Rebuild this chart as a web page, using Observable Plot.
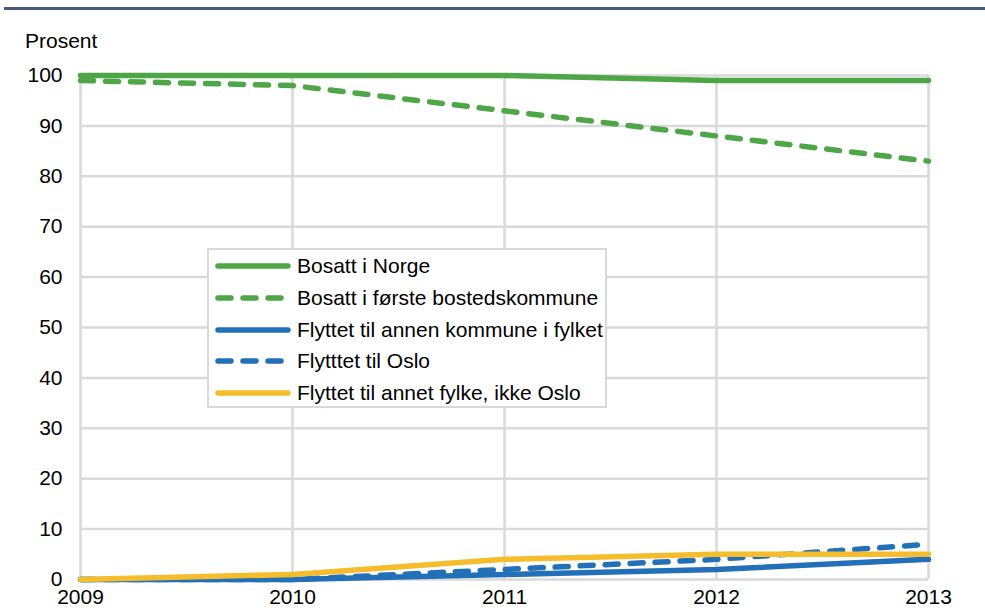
<!DOCTYPE html>
<html>
<head>
<meta charset="utf-8">
<script src="https://cdn.jsdelivr.net/npm/d3@7"></script>
<script src="https://cdn.jsdelivr.net/npm/@observablehq/plot@0.6"></script>
<style>
  html, body { margin: 0; padding: 0; background: #fff; }
  #wrap { position: relative; width: 985px; height: 612px; font-family: "Liberation Sans", Arial, sans-serif; color: #000; }
  #topbar { position: absolute; left: 4px; right: 0; top: 7px; height: 3px; background: #46597f; }
  #unit { position: absolute; left: 25px; top: 29px; font-size: 21px; line-height: 24px; }
  #legend { position: absolute; left: 207px; top: 248px; width: 396px; height: 156px; border: 2px solid #d9d9d9; background: #fff; }
  .row { position: absolute; left: 0; height: 32px; display: flex; align-items: center; font-size: 21px; white-space: nowrap; }
  .row svg { margin-left: 6px; margin-right: 6px; }
  #chart svg text { font-size: 21px; font-family: "Liberation Sans", Arial, sans-serif; }
</style>
</head>
<body>
<div id="wrap">
  <div id="topbar"></div>
  <div id="unit">Prosent</div>
  <div id="chart"></div>
  <div id="legend"></div>
</div>
<script>
const years = [2009, 2010, 2011, 2012, 2013];
const seriesNames = [
  "Bosatt i Norge",
  "Bosatt i første bostedskommune",
  "Flyttet til annen kommune i fylket",
  "Flytttet til Oslo",
  "Flyttet til annet fylke, ikke Oslo"
];
const bosattNorge = [100, 100, 100, 99, 99];
const bosattForste = [99, 98, 93, 88, 83];
const annenKommune = [0, 0, 1, 2, 4];
const tilOslo = [0, 0, 2, 4, 7];
const annetFylke = [0, 1, 4, 5, 5];
const yTicks = [0, 10, 20, 30, 40, 50, 60, 70, 80, 90, 100];

const seriesValues = [bosattNorge, bosattForste, annenKommune, tilOslo, annetFylke];
const seriesColors = ["#4ea747", "#4ea747", "#2270b8", "#2270b8", "#f5bd2c"];
const seriesDashed = [false, true, false, true, false];
const DASH = "13,12";

const lineMarks = seriesNames.map((name, s) =>
  Plot.line(years.map((yr, i) => ({year: yr, value: seriesValues[s][i], series: name})), {
    x: "year", y: "value",
    stroke: seriesColors[s], strokeWidth: 5.5,
    strokeDasharray: seriesDashed[s] ? DASH : null,
    strokeLinecap: "round", strokeLinejoin: "round"
  })
);

const chart = Plot.plot({
  width: 985, height: 612,
  marginLeft: 80, marginRight: 57, marginTop: 75, marginBottom: 33,
  style: {fontFamily: '"Liberation Sans", Arial, sans-serif', fontSize: "21px", color: "#000", background: "transparent", overflow: "visible"},
  x: {type: "linear", domain: [2009, 2013]},
  y: {domain: [0, 100]},
  marks: [
    Plot.gridY(yTicks, {stroke: "#d9d9d9", strokeOpacity: 1, strokeWidth: 2.5}),
    Plot.gridX(years, {stroke: "#d9d9d9", strokeOpacity: 1, strokeWidth: 2.5}),
    Plot.axisY({ticks: yTicks, tickSize: 0, tickPadding: 18, label: null, fill: "#000", fontSize: 21}),
    Plot.axisX({ticks: years, tickSize: 0, tickPadding: 10, label: null, tickFormat: d => String(d), fill: "#000", fontSize: 21}),
    ...lineMarks
  ]
});
document.getElementById("chart").appendChild(chart);

// Legend
const legend = document.getElementById("legend");
seriesNames.forEach((name, s) => {
  const row = document.createElement("div");
  row.className = "row";
  row.style.top = (s * 31.8) + "px";
  const ns = "http://www.w3.org/2000/svg";
  const svg = document.createElementNS(ns, "svg");
  svg.setAttribute("width", 76); svg.setAttribute("height", 10);
  const ln = document.createElementNS(ns, "line");
  ln.setAttribute("x1", 3); ln.setAttribute("x2", 73);
  ln.setAttribute("y1", 5); ln.setAttribute("y2", 5);
  ln.setAttribute("stroke", seriesColors[s]);
  ln.setAttribute("stroke-width", 5.5);
  ln.setAttribute("stroke-linecap", "round");
  if (seriesDashed[s]) ln.setAttribute("stroke-dasharray", DASH);
  svg.appendChild(ln);
  row.appendChild(svg);
  const t = document.createElement("span");
  t.textContent = name;
  row.appendChild(t);
  legend.appendChild(row);
});
</script>
</body>
</html>
